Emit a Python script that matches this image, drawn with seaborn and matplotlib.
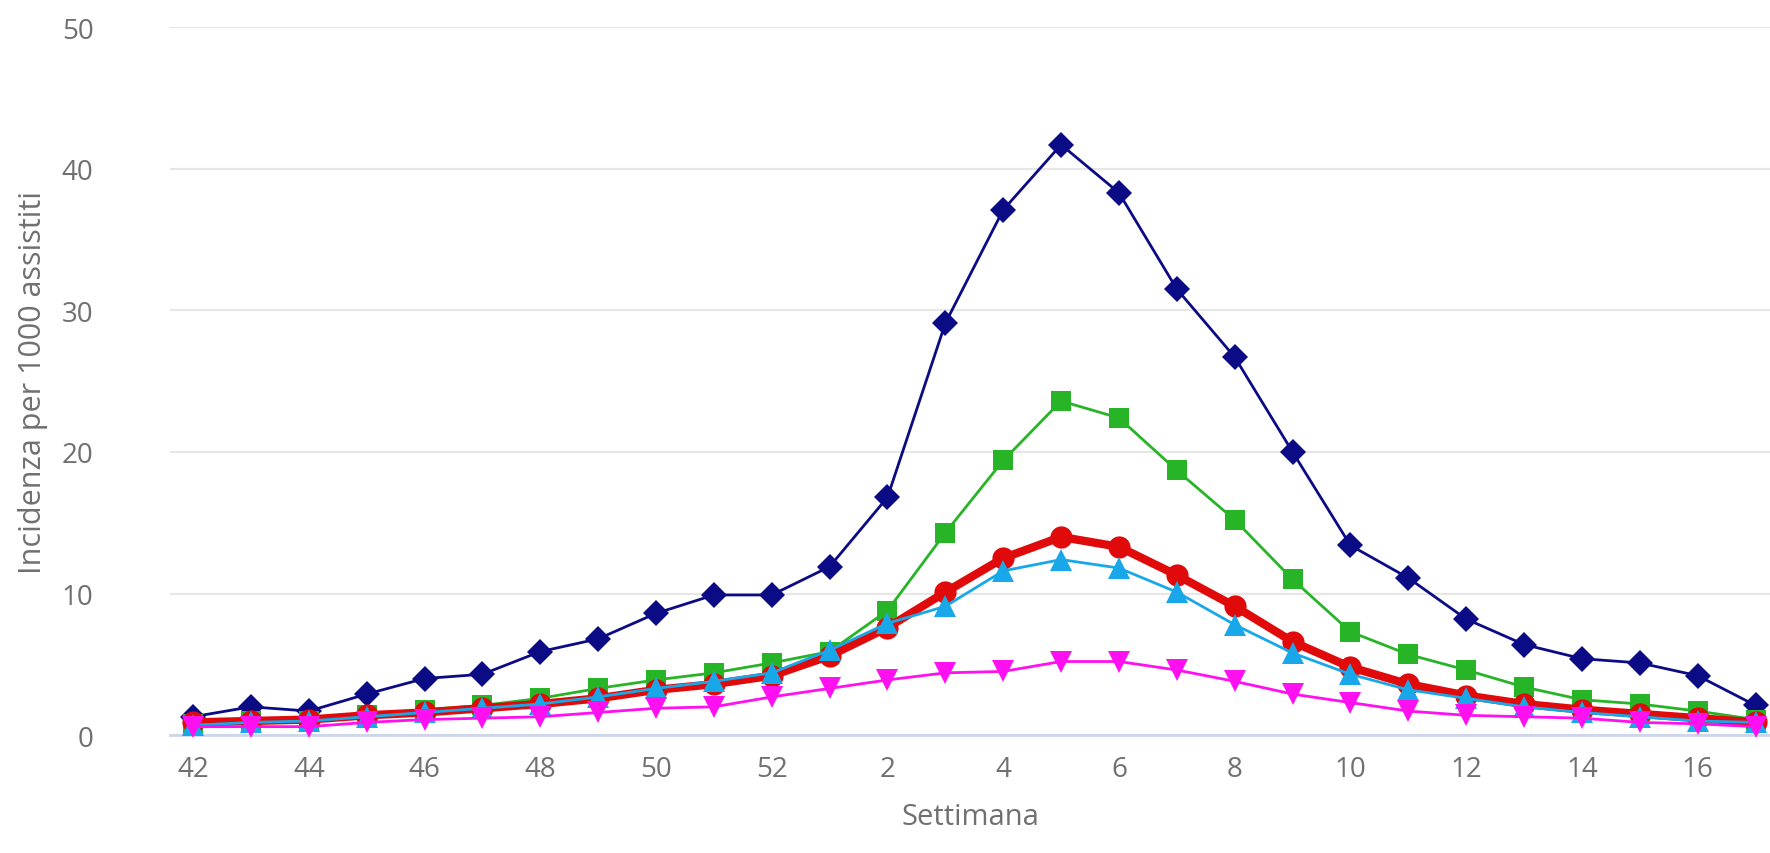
import pandas as pd
import seaborn as sns
import matplotlib.pyplot as plt

# Settimane della stagione (42..52, poi 1..17)
weeks = [42, 43, 44, 45, 46, 47, 48, 49, 50, 51, 52,
         1, 2, 3, 4, 5, 6, 7, 8, 9, 10, 11, 12, 13, 14, 15, 16, 17]

navy_vals = [1.3, 2.0, 1.7, 2.9, 4.0, 4.3, 5.9, 6.8, 8.6, 9.9, 9.9,
             11.9, 16.8, 29.1, 37.1, 41.7, 38.3, 31.5, 26.7, 20.0, 13.4,
             11.1, 8.2, 6.4, 5.4, 5.1, 4.2, 2.1]
green_vals = [0.8, 1.0, 1.0, 1.4, 1.8, 2.1, 2.6, 3.3, 3.9, 4.4, 5.1,
              5.9, 8.8, 14.3, 19.4, 23.6, 22.4, 18.7, 15.2, 11.0, 7.3,
              5.7, 4.6, 3.4, 2.5, 2.2, 1.7, 1.1]
red_vals = [0.9, 1.0, 1.1, 1.4, 1.6, 1.9, 2.2, 2.6, 3.2, 3.6, 4.2,
            5.6, 7.6, 10.1, 12.5, 14.0, 13.3, 11.3, 9.1, 6.6, 4.8,
            3.6, 2.8, 2.2, 1.8, 1.5, 1.2, 0.9]
cyan_vals = [0.7, 0.9, 1.0, 1.3, 1.6, 1.9, 2.2, 2.7, 3.3, 3.8, 4.4,
             6.0, 7.9, 9.1, 11.6, 12.4, 11.8, 10.1, 7.8, 5.8, 4.3,
             3.2, 2.6, 2.0, 1.6, 1.3, 1.0, 0.9]
magenta_vals = [0.6, 0.6, 0.6, 0.9, 1.1, 1.2, 1.3, 1.6, 1.9, 2.0, 2.7,
                3.3, 3.9, 4.4, 4.5, 5.2, 5.2, 4.6, 3.8, 2.9, 2.3,
                1.7, 1.4, 1.3, 1.2, 0.9, 0.8, 0.6]

tick_labels = [42, 44, 46, 48, 50, 52, 2, 4, 6, 8, 10, 12, 14, 16]

pos = list(range(len(weeks)))

series = [
    # values, color, marker, linewidth, markersize
    (navy_vals, "#0b0b85", "D", 2.0, 13),
    (green_vals, "#27b427", "s", 2.0, 15),
    (red_vals, "#e00a0a", "o", 6.0, 16),
    (cyan_vals, "#18a8ea", "^", 2.0, 16),
    (magenta_vals, "#ff10f0", "v", 2.0, 16),
]

sns.set_theme(style="white")
plt.rcParams['font.family'] = ['Open Sans', 'DejaVu Sans']

fig = plt.figure(figsize=(17.7, 8.54), dpi=100)
ax = fig.add_axes([0.096, 0.138, 0.904, 0.829])

for vals, color, marker, lw, ms in series:
    df = pd.DataFrame({"pos": pos, "val": vals})
    sns.lineplot(data=df, x="pos", y="val", ax=ax, color=color, marker=marker,
                 linewidth=lw, markersize=ms, markeredgecolor=color,
                 markeredgewidth=0, clip_on=False, zorder=3)

ax.set_xlim(-0.4, 27.25)
ax.set_ylim(0, 50)
ax.set_yticks([0, 10, 20, 30, 40, 50])
ax.set_xticks([weeks.index(w) for w in tick_labels])
ax.set_xticklabels([str(w) for w in tick_labels])

ax.grid(axis="y", color="#e6e6e6", linewidth=1.5)
ax.grid(axis="x", visible=False)
for side in ["top", "right", "left"]:
    ax.spines[side].set_visible(False)
ax.spines["bottom"].set_color("#ccd6eb")
ax.spines["bottom"].set_linewidth(2)

ax.tick_params(axis="both", colors="#707070", labelsize=20, length=0)
ax.tick_params(axis="y", pad=55)
ax.tick_params(axis="x", pad=14)
for lbl in ax.get_yticklabels():
    lbl.set_horizontalalignment("right")

ax.set_xlabel("Settimana", fontsize=21, color="#707070", labelpad=14)
ax.set_ylabel("Incidenza per 1000 assistiti", fontsize=22, color="#707070", labelpad=10)

plt.savefig("out.png", dpi=100)
